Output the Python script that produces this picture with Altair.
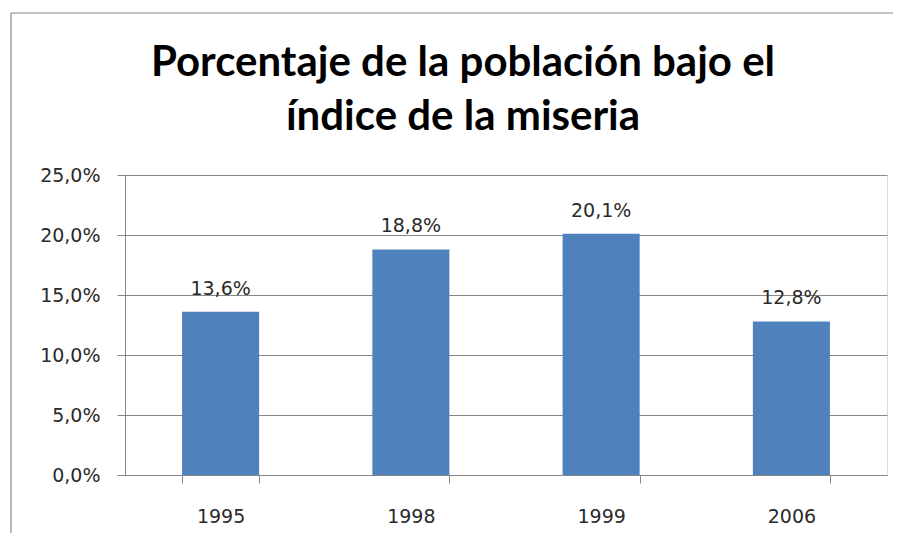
import altair as alt
import pandas as pd

years = ["1995", "1998", "1999", "2006"]
values = [13.6, 18.8, 20.1, 12.8]
y_ticks = [0, 5, 10, 15, 20, 25]
title_lines = ["Porcentaje de la población bajo el", "índice de la miseria"]

df = pd.DataFrame({"year": years, "value": values})
one = pd.DataFrame({"k": [0]})

FONT = "DejaVu Sans"
GRAY = "#868686"
TXT = "#2a2a2a"

base = alt.Chart(df).transform_calculate(
    label="replace(format(datum.value, '.1f'), '.', ',') + '%'"
)

x = alt.X(
    "year:N",
    sort=years,
    title=None,
    scale=alt.Scale(paddingInner=0.595, paddingOuter=0.3),
    axis=alt.Axis(
        labelAngle=0,
        tickBand="extent",
        tickSize=8,
        tickColor=GRAY,
        domainColor=GRAY,
        labelPadding=24,
        labelFont=FONT,
        labelFontSize=19,
        labelColor=TXT,
        grid=False,
    ),
)

y = alt.Y(
    "value:Q",
    title=None,
    scale=alt.Scale(domain=[0, 25], nice=False),
    axis=alt.Axis(
        values=y_ticks,
        labelExpr="replace(format(datum.value, '.1f'), '.', ',') + '%'",
        tickSize=8,
        tickColor=GRAY,
        domainColor=GRAY,
        gridColor=GRAY,
        labelPadding=17,
        labelFont=FONT,
        labelFontSize=19,
        labelColor=TXT,
    ),
)

bars = base.mark_bar(color="#4F81BD").encode(x=x, y=y)

labels = base.mark_text(
    baseline="alphabetic", dy=-17, font=FONT, fontSize=19, color=TXT
).encode(x=alt.X("year:N", sort=years), y="value:Q", text="label:N")

title1 = alt.Chart(one).mark_text(
    font="Lato", fontSize=42, fontWeight="bold", color="#000000",
    align="center", baseline="alphabetic",
).encode(x=alt.value(338), y=alt.value(-99), text=alt.value(title_lines[0]))

title2 = alt.Chart(one).mark_text(
    font="Lato", fontSize=42, fontWeight="bold", color="#000000",
    align="center", baseline="alphabetic",
).encode(x=alt.value(338), y=alt.value(-45), text=alt.value(title_lines[1]))

border_left = alt.Chart(one).mark_rule(color="#8a8a8a", strokeWidth=1.2).encode(
    x=alt.value(-114), y=alt.value(-162), y2=alt.value(380)
)
border_top = alt.Chart(one).mark_rule(color="#8a8a8a", strokeWidth=1.2).encode(
    x=alt.value(-114), x2=alt.value(800), y=alt.value(-162)
)

chart = (
    alt.layer(bars, labels, title1, title2, border_left, border_top)
    .properties(
        width=762,
        height=300,
        autosize=alt.AutoSizeParams(type="none"),
        padding={"left": 117, "top": 167, "right": 6, "bottom": 58},
    )
    .configure_view(stroke=None)
    .configure(background="white")
)

chart.save("out.html", embed_options={"renderer": "svg", "actions": False})
